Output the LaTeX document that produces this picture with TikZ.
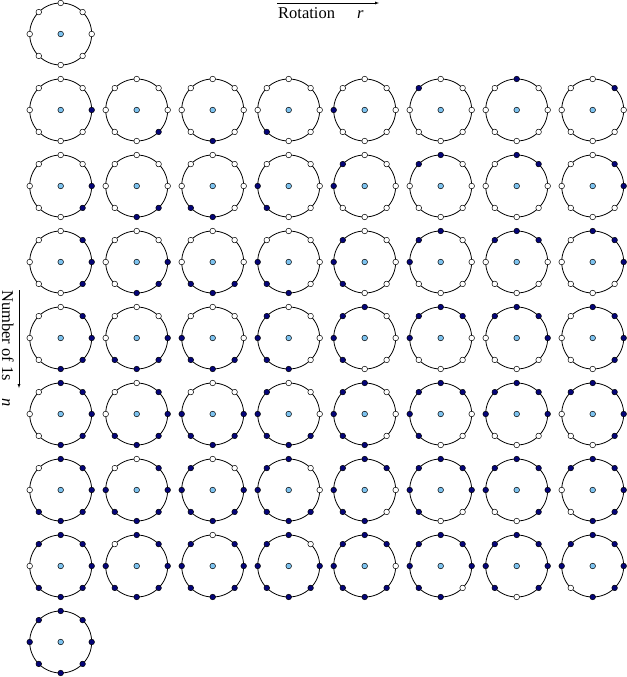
\documentclass[tikz,border=0pt]{standalone}
\usepackage{fontspec}
\setmainfont{Liberation Serif}
\usetikzlibrary{arrows}
\definecolor{BitOn}{RGB}{5,5,120}
\definecolor{Hub}{RGB}{125,195,240}
\tikzset{
  bitoff/.style = {circle, draw, line width = 0.5pt, inner sep = 0pt, minimum size = 5.6bp, fill = white},
  biton/.style = {bitoff, fill = BitOn},
  hubdot/.style = {bitoff, fill = Hub},
  lbl/.style = {inner sep = 0pt, font = \fontsize{16.5bp}{20bp}\selectfont}
}

\begin{document}
\begin{tikzpicture}[x = 1bp, y = -1bp]
  \useasboundingbox (0, 0) rectangle (627, 677);
  % axis labels
  \coordinate (RA) at (277, 3);
  \coordinate (RB) at (379, 3);
  \node [lbl, anchor = base west] (RL) at (278, 19) {Rotation};
  \node [lbl, anchor = base west] (RV) at (357, 19) {\textit{r}};
  \draw [-latex] (RA) -- (RB);
  \coordinate (NA) at (19, 290);
  \coordinate (NB) at (19, 388);
  \node [lbl, rotate = -90, anchor = base west] (NL) at (2, 290) {Number of 1s};
  \node [lbl, rotate = -90, anchor = base west] (NV) at (2, 398) {\textit{n}};
  \draw [-latex] (NA) -- (NB);
  % one ring per (n, r)
  \foreach \n in {0, ..., 8} {
    \pgfmathtruncatemacro{\last}{(\n == 0 || \n == 8) ? 0 : 7}
    \pgfmathtruncatemacro{\start}{floor((\n - 1) / 2)}
    \foreach \r in {0, ..., \last} {
      \node [hubdot] (C\n\r) at ({60.7 + 76 * \r}, {34 + 76 * \n}) {};
      \draw [line width = 0.8pt] (C\n\r.center) circle [radius = 31];
      \foreach \k in {0, ..., 7} {
        \pgfmathtruncatemacro{\bit}{mod(\k - \r + \start + 16, 8) < \n}
        \ifnum\bit = 1 \def\bitstyle{biton}\else\def\bitstyle{bitoff}\fi
        \node [\bitstyle] (B\n\r\k) at ([shift = {(45 * \k : 31)}] C\n\r.center) {};
      }
    }
  }
\end{tikzpicture}
\end{document}
